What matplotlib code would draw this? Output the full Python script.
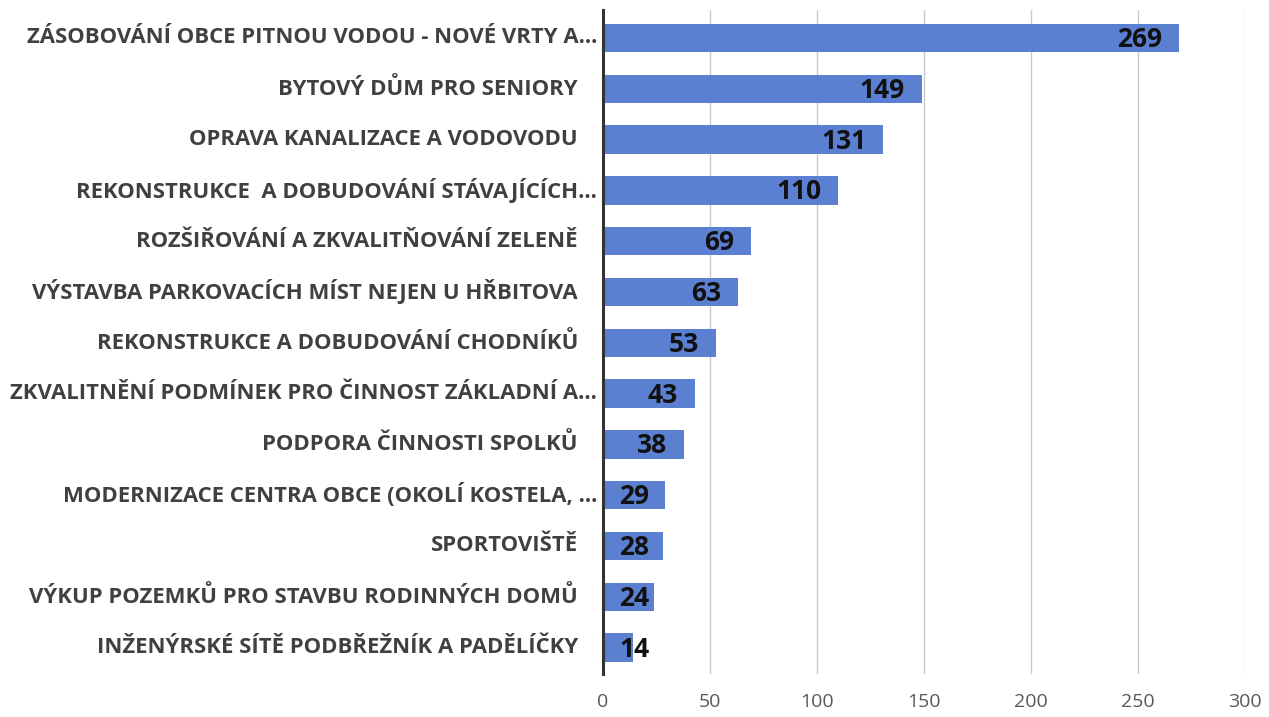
import matplotlib.pyplot as plt
import matplotlib.transforms as mtransforms

# Data (top to bottom)
categories = [
    "ZÁSOBOVÁNÍ OBCE PITNOU VODOU - NOVÉ VRTY A...",
    "BYTOVÝ DŮM PRO SENIORY",
    "OPRAVA KANALIZACE A VODOVODU",
    "REKONSTRUKCE  A DOBUDOVÁNÍ STÁVAJÍCÍCH...",
    "ROZŠIŘOVÁNÍ A ZKVALITŇOVÁNÍ ZELENĚ",
    "VÝSTAVBA PARKOVACÍCH MÍST NEJEN U HŘBITOVA",
    "REKONSTRUKCE A DOBUDOVÁNÍ CHODNÍKŮ",
    "ZKVALITNĚNÍ PODMÍNEK PRO ČINNOST ZÁKLADNÍ A...",
    "PODPORA ČINNOSTI SPOLKŮ",
    "MODERNIZACE CENTRA OBCE (OKOLÍ KOSTELA, ...",
    "SPORTOVIŠTĚ",
    "VÝKUP POZEMKŮ PRO STAVBU RODINNÝCH DOMŮ",
    "INŽENÝRSKÉ SÍTĚ PODBŘEŽNÍK A PADĚLÍČKY",
]
votes = [269, 149, 131, 110, 69, 63, 53, 43, 38, 29, 28, 24, 14]
x_ticks = [0, 50, 100, 150, 200, 250, 300]

BAR_COLOR = "#5b80d2"
LABEL_COLOR = "#404040"
TICK_COLOR = "#595959"
FONT = "Open Sans"

fig = plt.figure(figsize=(12.69, 7.17), dpi=100)
ax = fig.add_axes([603 / 1269, 1 - 674 / 717, 642 / 1269, 664 / 717])

pos = list(range(len(categories)))
ax.barh(pos, votes, height=0.56, color=BAR_COLOR, zorder=2)

ax.set_xlim(0, 300)
ax.set_ylim(12.52, -0.55)
ax.set_xticks(x_ticks)
ax.set_xticklabels([str(t) for t in x_ticks], fontsize=14,
                   color=TICK_COLOR, family=FONT)
ax.tick_params(axis="x", length=0, pad=14)
ax.set_yticks(pos)
ax.set_yticklabels([])
ax.tick_params(axis="y", length=0)

ax.grid(axis="x", color="#c8c8c8", linewidth=1.0, zorder=0)
for side in ("top", "right", "bottom"):
    ax.spines[side].set_visible(False)
ax.spines["left"].set_color("#333333")
ax.spines["left"].set_linewidth(2.2)
ax.spines["left"].set_zorder(3)

# category labels: truncated ones sit closer to the axis
for y, name in zip(pos, categories):
    dx = -6 if name.endswith("...") else -25
    trans = ax.get_yaxis_transform() + mtransforms.ScaledTranslation(
        dx / 100, 0, fig.dpi_scale_trans)
    ax.text(0, y, name, transform=trans, ha="right", va="center",
            fontsize=15.9, fontweight="bold", color=LABEL_COLOR,
            family=FONT)

# value labels near the inner end of each bar, kept clear of the axis
fig.canvas.draw()
renderer = fig.canvas.get_renderer()
px_per_unit = ax.bbox.width / 300
for y, v in zip(pos, votes):
    t = ax.text(v - 17 / px_per_unit, y + 0.03, str(v), ha="right",
                va="center", fontsize=19, fontweight="bold",
                color="#111111", family=FONT, zorder=4)
    bb = t.get_window_extent(renderer)
    if bb.x0 < ax.bbox.x0 + 16:
        t.set_position((16 / px_per_unit, y + 0.03))
        t.set_ha("left")

fig.savefig("out.png", dpi=100, facecolor="white")
